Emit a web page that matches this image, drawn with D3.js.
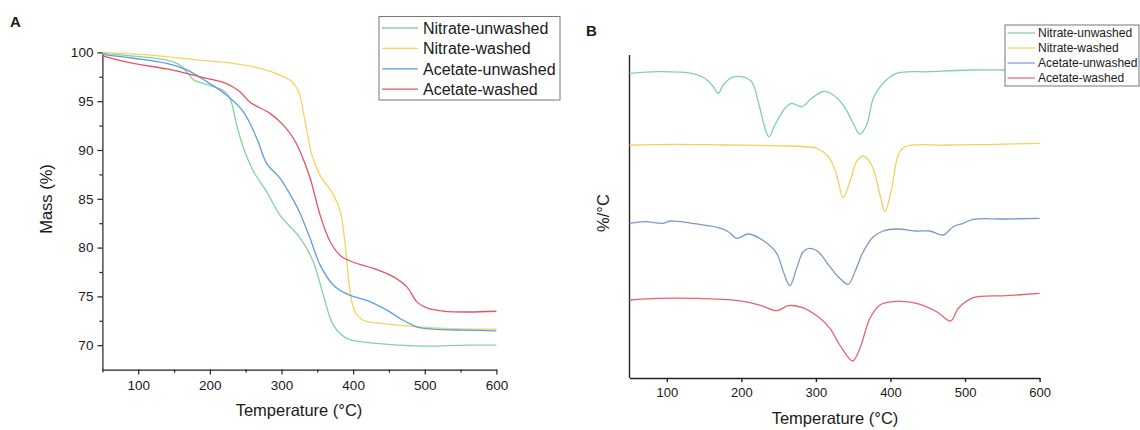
<!DOCTYPE html>
<html><head><meta charset="utf-8">
<script src="https://cdn.jsdelivr.net/npm/d3@7"></script>
<style>body{margin:0;background:#fff} text{font-family:"Liberation Sans",Arial,sans-serif;fill:#1a1a1a}</style>
</head><body><svg id="c" width="1140" height="430"></svg>
<script>
// ---------- DATA ----------
const seriesNames = ["Nitrate-unwashed", "Nitrate-washed", "Acetate-unwashed", "Acetate-washed"];
const xTicks = [100, 200, 300, 400, 500, 600];
const xMinorTicks = [50, 150, 250, 350, 450, 550];
const massTicks = [70, 75, 80, 85, 90, 95, 100];
const massMinorTicks = [72.5, 77.5, 82.5, 87.5, 92.5, 97.5];

// Panel A: TGA mass (%) vs temperature (°C)
const tgaNitrateUnwashed = [[50,99.9],[93,99.62],[140,99.2],[158,98.7],[170,97.8],[177,97.2],[196,96.7],[219,96.1],[228,95.3],[237.6,92.5],[247,90.2],[261,87.8],[279.5,85.7],[298,83.3],[326,81.0],[344.6,78.5],[358.5,75.1],[372.5,72.05],[391,70.7],[419,70.28],[465.6,70.0],[503,69.9],[559,70.0],[600,70.0]];
const tgaNitrateWashed = [[50,100.0],[116.5,99.72],[186,99.2],[233,98.87],[270,98.36],[298,97.67],[314.4,96.99],[324,95.96],[333,92.9],[342.3,89.5],[354,87.4],[372.5,85.4],[382,83.7],[389,80.25],[395.8,75.5],[402.8,73.4],[414.4,72.56],[442,72.2],[489,71.88],[535.5,71.7],[600,71.64]];
const tgaAcetateUnwashed = [[50,99.8],[93,99.4],[140,98.87],[167.7,98.2],[195.7,97.0],[223.6,95.6],[246.8,93.9],[265.5,91.2],[279.5,88.6],[298,87.1],[316.6,84.86],[326,83.5],[340,80.94],[354,78.2],[372.5,76.15],[395.8,75.1],[419,74.6],[447,73.6],[465.6,72.74],[489,71.88],[512,71.64],[559,71.54],[600,71.47]];
const tgaAcetateWashed = [[50,99.65],[93,98.87],[140,98.3],[186,97.5],[223.6,96.8],[242,95.96],[256,94.9],[284,93.75],[302.6,92.55],[316.6,91.2],[326,89.85],[340,87.1],[354,83.3],[368,80.6],[382,79.2],[400.4,78.5],[428.4,77.86],[456.3,77.0],[475,75.98],[489,74.44],[503,73.83],[526,73.5],[559,73.4],[600,73.48]];

// Panel B: DTG (%/°C, stacked with offsets, arbitrary units)
const dtgNitrateUnwashed = [[50,304.7],[88.6,306.3],[133.4,304.7],[151,299.7],[162.4,291.3],[169,284.7],[175.8,293],[187,300.3],[200.4,301.3],[213.8,296.3],[222.7,276.3],[231.7,249.7],[237,241.3],[245,253],[258.5,269.7],[267.5,274.7],[281,271.3],[294.3,279.7],[310,286.5],[320,284.5],[336.7,273],[350,254.7],[359,243.7],[368,253],[377,279.7],[390,294.7],[408,304.7],[453,306.3],[506.6,308],[555.8,308],[600,308]];
const dtgNitrateWashed = [[50,233],[111,233.7],[178,233],[245,232.3],[301,229.7],[312,224.7],[319,219],[327.8,203],[336.7,180.3],[345.6,196.3],[354.6,216.3],[363.5,222],[374.7,213],[386,183],[392.6,166.3],[401.6,189.7],[410.5,223],[419.5,231.3],[475.3,233],[542.4,233.7],[600,234.7]];
const dtgAcetateUnwashed = [[50,154.7],[70.8,156.3],[95.3,154.7],[104.3,157],[133.4,154.7],[169,150.3],[182.5,146.3],[193.7,139.7],[209.3,144],[231.7,136.3],[247.4,124.7],[256.3,106.3],[265.2,92.3],[274.2,109.7],[283,126.3],[292,129.7],[303,126.3],[318.8,111.3],[332,99.7],[343.4,93.7],[352.3,106.3],[363.5,126.3],[377,141.3],[390.3,147],[408.3,149],[435,147],[453,147],[470.8,143],[484.2,151.3],[497.6,154.7],[511,158.7],[555.8,159],[600,159.7]];
const dtgAcetateWashed = [[50,78],[88.6,79.7],[133.4,79.7],[196,77.3],[227,72.3],[247.4,67.3],[263,72.3],[281,70.7],[303,61.3],[318.8,49.7],[332,33],[349.3,17],[359,29.7],[372.5,59.7],[386,73],[403.7,76.3],[435,74.7],[462,66.3],[480.7,57],[491,69.7],[511,80.3],[555.8,82.3],[600,84.7]];

// ---------- STYLE ----------
const colorsA = ["#80d3a4", "#f6d25f", "#5f9be0", "#e5545c"];
const colorsB = ["#7fd2a8", "#f5cf5c", "#7d97c7", "#e8636a"];

const svg = d3.select("#c");

// ---------- PANEL A ----------
const xA = d3.scaleLinear().domain([50, 600]).range([102.4, 496.4]);
const yA = d3.scaleLinear().domain([67.5, 100.1]).range([369.6, 51.4]);
const gA = svg.append("g");

gA.append("g").attr("transform", "translate(0,369.6)")
  .call(d3.axisBottom(xA).tickValues(xMinorTicks).tickSize(3).tickSizeOuter(0).tickFormat(""))
  .call(g => g.select(".domain").remove());
const axA = gA.append("g").attr("transform", "translate(0,369.6)")
  .call(d3.axisBottom(xA).tickValues(xTicks).tickSize(5).tickSizeOuter(0).tickPadding(6));
axA.selectAll("text").attr("font-size", 13.5);

gA.append("g").attr("transform", "translate(102.4,0)")
  .call(d3.axisLeft(yA).tickValues(massMinorTicks).tickSize(3).tickSizeOuter(0).tickFormat(""))
  .call(g => g.select(".domain").remove());
const ayA = gA.append("g").attr("transform", "translate(102.4,0)")
  .call(d3.axisLeft(yA).tickValues(massTicks).tickSize(5).tickSizeOuter(0).tickPadding(4));
ayA.selectAll("text").attr("font-size", 13.5);
gA.selectAll(".domain, .tick line").attr("stroke", "#222").attr("stroke-width", 1.2);

const lineA = d3.line().x(d => xA(d[0])).y(d => yA(d[1])).curve(d3.curveCatmullRom.alpha(0.5));
const tgaSeries = [tgaNitrateUnwashed, tgaNitrateWashed, tgaAcetateUnwashed, tgaAcetateWashed];
tgaSeries.forEach((s, i) => {
  gA.append("path").datum(s).attr("d", lineA).attr("fill", "none")
    .attr("stroke", colorsA[i]).attr("stroke-width", 1.3);
});

gA.append("text").attr("x", 299).attr("y", 416).attr("text-anchor", "middle")
  .attr("font-size", 16.5).text("Temperature (°C)");
gA.append("text").attr("transform", "translate(52,199) rotate(-90)").attr("text-anchor", "middle")
  .attr("font-size", 16.5).text("Mass (%)");
gA.append("text").attr("x", 10).attr("y", 27).attr("font-size", 15).attr("font-weight", "bold").text("A");

// legend A
const legA = gA.append("g");
legA.append("rect").attr("x", 379).attr("y", 16.5).attr("width", 181).attr("height", 83.5)
  .attr("fill", "#fff").attr("stroke", "#777").attr("stroke-width", 1);
seriesNames.forEach((n, i) => {
  const yy = 28 + i * 20.4;
  legA.append("line").attr("x1", 382).attr("x2", 418).attr("y1", yy).attr("y2", yy)
    .attr("stroke", colorsA[i]).attr("stroke-width", 1.3);
  legA.append("text").attr("x", 423).attr("y", yy + 5.8).attr("font-size", 16).text(n);
});

// ---------- PANEL B ----------
const xB = d3.scaleLinear().domain([50, 600]).range([629.5, 1039.6]);
const yB = d3.scaleLinear().domain([0, 323]).range([378, 55]);
const gB = svg.append("g");

const axB = gB.append("g").attr("transform", "translate(0,378)")
  .call(d3.axisBottom(xB).tickValues(xTicks).tickSize(4).tickSizeOuter(0).tickPadding(6));
axB.selectAll("text").attr("font-size", 13);
gB.append("line").attr("x1", 629.5).attr("x2", 629.5).attr("y1", yB(323)).attr("y2", yB(0));
gB.selectAll(".domain, .tick line, line").attr("stroke", "#222").attr("stroke-width", 1.4);

const lineB = d3.line().x(d => xB(d[0])).y(d => yB(d[1])).curve(d3.curveCatmullRom.alpha(0.5));
const dtgSeries = [dtgNitrateUnwashed, dtgNitrateWashed, dtgAcetateUnwashed, dtgAcetateWashed];
dtgSeries.forEach((s, i) => {
  gB.append("path").datum(s).attr("d", lineB).attr("fill", "none")
    .attr("stroke", colorsB[i]).attr("stroke-width", 1.3);
});

gB.append("text").attr("x", 835).attr("y", 424).attr("text-anchor", "middle")
  .attr("font-size", 16.5).text("Temperature (°C)");
gB.append("text").attr("transform", "translate(609,213) rotate(-90)").attr("text-anchor", "middle")
  .attr("font-size", 16.5).text("%/°C");
gB.append("text").attr("x", 586).attr("y", 36).attr("font-size", 15).attr("font-weight", "bold").text("B");

// legend B
const legB = gB.append("g");
legB.append("rect").attr("x", 1005).attr("y", 25).attr("width", 134).attr("height", 61)
  .attr("fill", "#fff").attr("stroke", "#777").attr("stroke-width", 1);
seriesNames.forEach((n, i) => {
  const yy = 33 + i * 15;
  legB.append("line").attr("x1", 1007.5).attr("x2", 1035).attr("y1", yy).attr("y2", yy)
    .attr("stroke", colorsB[i]).attr("stroke-width", 1.2);
  legB.append("text").attr("x", 1038).attr("y", yy + 4.3).attr("font-size", 12).text(n);
});
</script></body></html>
